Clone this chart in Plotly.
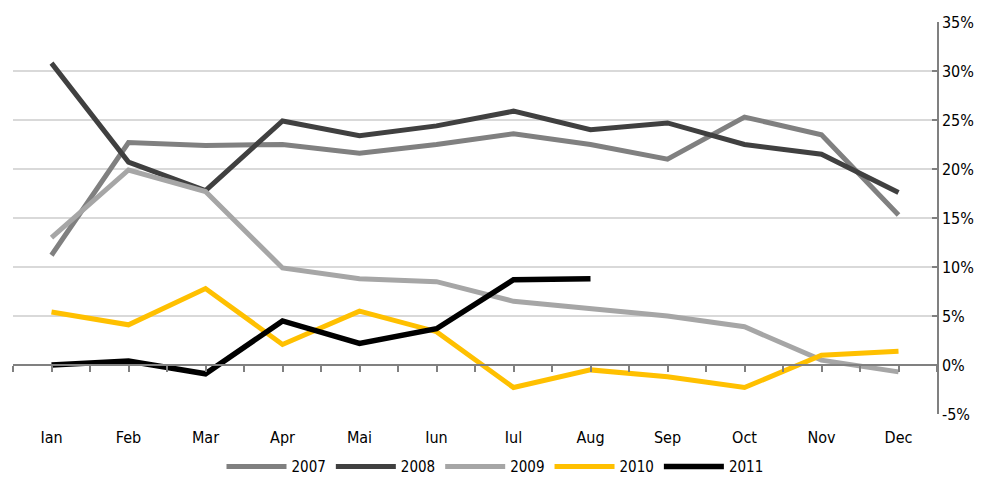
import plotly.graph_objects as go

months = ["Ian", "Feb", "Mar", "Apr", "Mai", "Iun", "Iul", "Aug", "Sep", "Oct", "Nov", "Dec"]
s2007 = [11.2, 22.7, 22.4, 22.5, 21.6, 22.5, 23.6, 22.5, 21.0, 25.3, 23.5, 15.3]
s2008 = [30.8, 20.7, 17.8, 24.9, 23.4, 24.4, 25.9, 24.0, 24.7, 22.5, 21.5, 17.6]
s2009 = [13.0, 19.9, 17.7, 9.9, 8.8, 8.5, 6.5, 5.7, 5.0, 3.9, 0.5, -0.7]
s2010 = [5.4, 4.1, 7.8, 2.1, 5.5, 3.4, -2.3, -0.5, -1.2, -2.3, 1.0, 1.4]
s2011 = [0.0, 0.4, -0.9, 4.5, 2.2, 3.7, 8.7, 8.8]
ytick_vals = [-5, 0, 5, 10, 15, 20, 25, 30, 35]
ytick_text = ["-5%", "0%", "5%", "10%", "15%", "20%", "25%", "30%", "35%"]

series = [
    ("2007", s2007, "#808080", 5),
    ("2008", s2008, "#404040", 5),
    ("2009", s2009, "#a6a6a6", 5),
    ("2010", s2010, "#ffc000", 5),
    ("2011", s2011, "#000000", 5.5),
]

fig = go.Figure()
# invisible trace carrying the zero-line axis (numeric positions of the months)
fig.add_trace(go.Scatter(x=list(range(len(months))), y=[0] * len(months), xaxis="x2",
                         mode="lines", line=dict(width=0), showlegend=False,
                         hoverinfo="skip"))
for name, vals, col, w in series:
    fig.add_trace(go.Scatter(x=months[:len(vals)], y=vals, name=name, mode="lines",
                             line=dict(color=col, width=w)))

font = "DejaVu Sans Condensed"
fig.update_layout(
    width=974, height=471,
    margin=dict(l=5, r=45, t=14, b=65, autoexpand=False),
    paper_bgcolor="white", plot_bgcolor="white",
    font=dict(family=font, size=16, color="#000000"),
    xaxis=dict(categoryorder="array", categoryarray=months, showgrid=False,
               showline=False, ticks="", tickfont=dict(size=16), ticklabelstandoff=12,
               range=[-0.5, 11.5], automargin=False),
    xaxis2=dict(overlaying="x", anchor="free", position=0.125,
                range=[-0.5, 11.5], tickmode="linear", tick0=-0.5, dtick=0.5,
                showline=True, linecolor="#808080", linewidth=1.5,
                ticks="outside", ticklen=6, tickcolor="#808080", tickwidth=1.5,
                showticklabels=False, showgrid=False, zeroline=False,
                automargin=False),
    yaxis=dict(side="right", range=[-5, 35], tickvals=ytick_vals, ticktext=ytick_text,
               showgrid=True, gridcolor="#d9d9d9", gridwidth=2, zeroline=False,
               showline=True, linecolor="#808080", linewidth=1.5,
               ticks="inside", ticklen=5, tickcolor="#808080", tickwidth=1.5,
               tickfont=dict(size=16), automargin=False),
    legend=dict(orientation="h", x=0.5, xanchor="center", xref="container",
                y=0.026, yanchor="middle", yref="container",
                font=dict(size=15), itemwidth=60, traceorder="normal"),
    showlegend=True,
)

fig.write_html("out.html")
